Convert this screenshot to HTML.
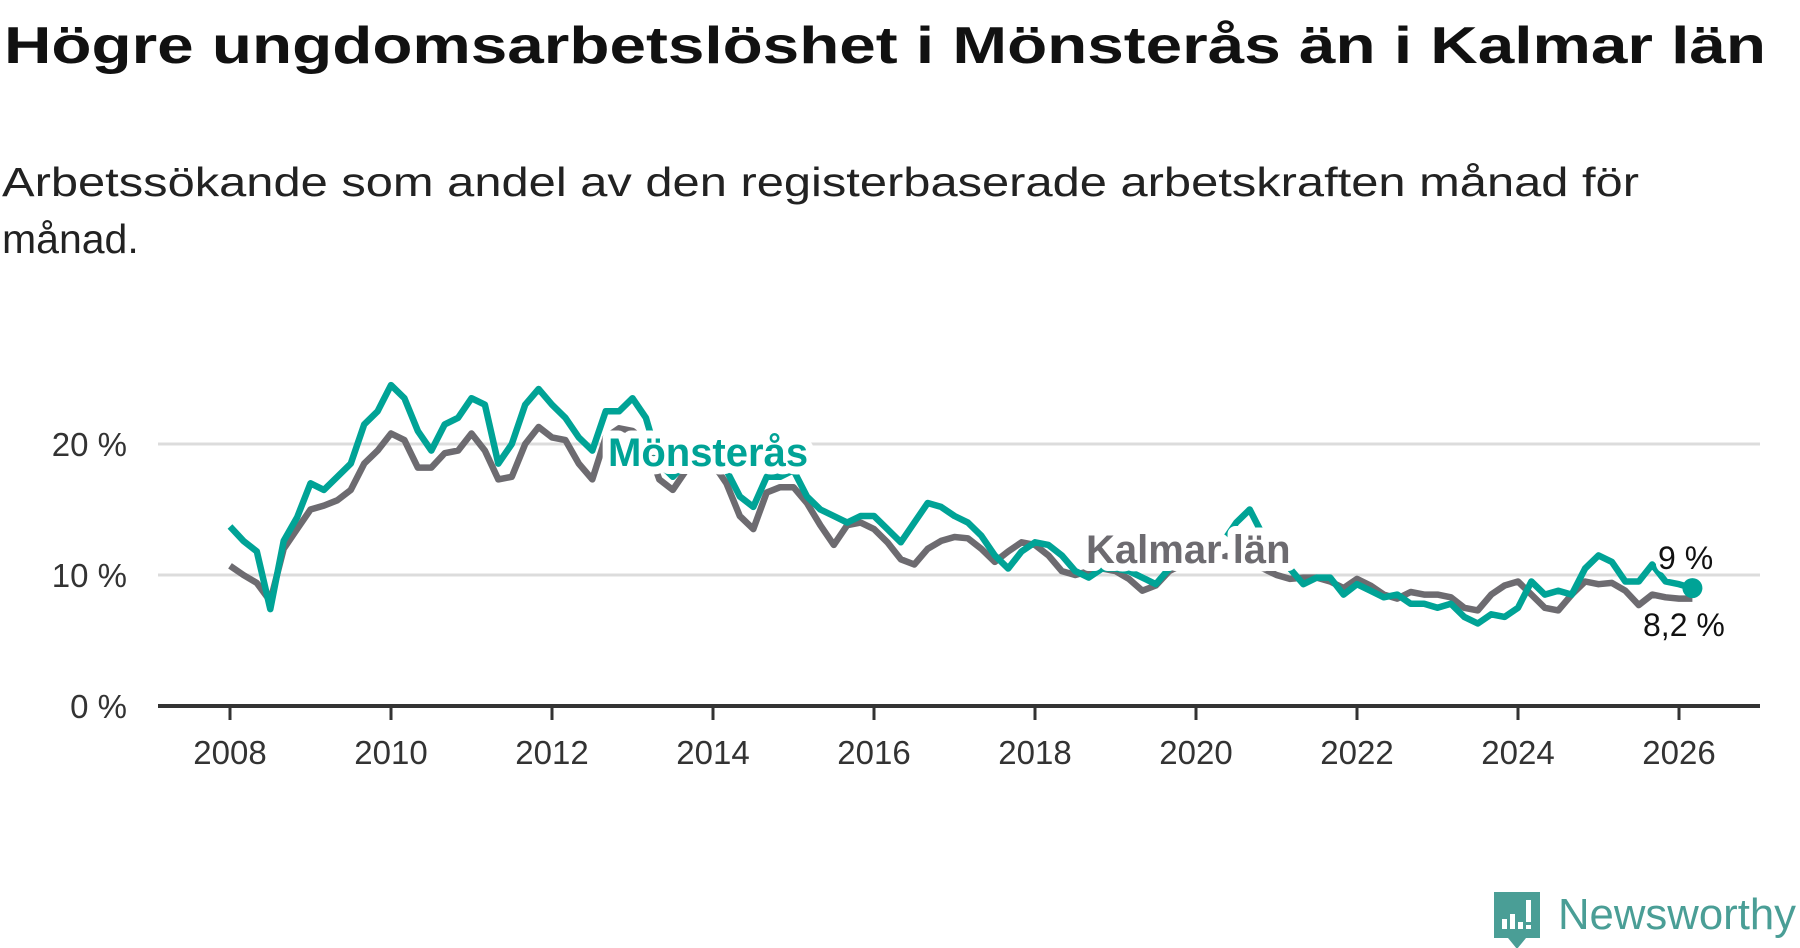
<!DOCTYPE html>
<html><head><meta charset="utf-8"><style>
body{margin:0;background:#fff;}
svg{display:block;font-family:"Liberation Sans",sans-serif;}
</style></head><body>
<svg id="chart" width="1800" height="948" viewBox="0 0 1800 948">
<text x="4" y="63" font-size="52" font-weight="bold" fill="#111" textLength="1762" lengthAdjust="spacingAndGlyphs">Högre ungdomsarbetslöshet i Mönsterås än i Kalmar län</text>
<text x="2" y="196" font-size="41" fill="#222" textLength="1637" lengthAdjust="spacingAndGlyphs">Arbetssökande som andel av den registerbaserade arbetskraften månad för</text>
<text x="2" y="253" font-size="41" fill="#222">månad.</text>
<g id="grid"></g><g id="axes"></g><g id="lines"></g><g id="labels"></g>
<g>
<path d="M1494 892 h46 v46 h-14 l-9 11 l-9 -11 h-14 z" fill="#4a9e96"/>
<rect x="1502" y="919" width="5" height="10" fill="#fff"/><rect x="1510" y="914" width="5" height="15" fill="#fff"/><rect x="1518" y="922" width="5" height="7" fill="#fff"/><rect x="1526" y="900" width="5" height="22" fill="#fff"/><rect x="1526" y="925" width="5" height="4" fill="#fff"/>
<text x="1558" y="929" font-size="44" fill="#4a9e96" textLength="238" lengthAdjust="spacingAndGlyphs">Newsworthy</text>
</g>
</svg>
<script>
const yearsStart = 2008, step = 1/6;
const monsteras = [13.7,12.6,11.8,7.4,12.6,14.4,17,16.5,17.5,18.5,21.5,22.5,24.5,23.5,21,19.5,21.5,22,23.5,23,18.5,20,23,24.2,23,22,20.5,19.5,22.5,22.5,23.5,22,18.5,17.5,18.5,19,19,18,16,15.2,17.5,17.5,18,16,15,14.5,14,14.5,14.5,13.5,12.5,14,15.5,15.2,14.5,14,13,11.5,10.5,11.8,12.5,12.3,11.5,10.3,9.8,10.5,10.5,10.3,9.8,9.3,10.5,11.5,12.3,12,12.5,14,15,13,11.5,10.5,9.3,9.8,9.8,8.5,9.3,8.8,8.3,8.5,7.8,7.8,7.5,7.8,6.8,6.3,7,6.8,7.5,9.5,8.5,8.8,8.5,10.5,11.5,11,9.5,9.5,10.8,9.5,9.3,9];
const kalmar = [10.7,10,9.4,8,12,13.5,15,15.3,15.7,16.5,18.5,19.5,20.8,20.3,18.2,18.2,19.3,19.5,20.8,19.5,17.3,17.5,20,21.3,20.5,20.3,18.5,17.3,20.5,21.2,21,20.2,17.3,16.5,18,19,18.5,17,14.5,13.5,16.3,16.7,16.7,15.5,13.8,12.3,13.8,14,13.5,12.5,11.2,10.8,12,12.6,12.9,12.8,12,11,11.8,12.5,12.3,11.5,10.3,10,10.3,10.5,10.3,9.7,8.8,9.2,10.3,10.8,11,11.3,11.5,11.3,11,10.5,10,9.7,9.8,9.8,9.5,9,9.7,9.2,8.5,8.2,8.7,8.5,8.5,8.3,7.5,7.3,8.5,9.2,9.5,8.5,7.5,7.3,8.5,9.5,9.3,9.4,8.8,7.7,8.5,8.3,8.2,8.2];
const yTicks = [0,10,20];
const yTickLabels = ["0 %","10 %","20 %"];
const xTicks = [2008,2010,2012,2014,2016,2018,2020,2022,2024,2026];
const NS="http://www.w3.org/2000/svg";
const X = t => 230 + (t-2008)*80.5;
const Y = v => 706 - v*13.1;
function mk(tag, attrs, parent){const e=document.createElementNS(NS,tag);for(const k in attrs)e.setAttribute(k,attrs[k]);parent.appendChild(e);return e;}
const grid=document.getElementById('grid'), axes=document.getElementById('axes'), lines=document.getElementById('lines'), labels=document.getElementById('labels');
yTicks.forEach((v,i)=>{
  if(v>0){const l=mk('line',{x1:158,x2:1760,y1:Y(v),y2:Y(v),stroke:'#dcdcdc','stroke-width':3},grid);
  
  }
  const t=mk('text',{x:127,y:Y(v)+12,'text-anchor':'end','font-size':33,fill:'#333'},axes);
  t.textContent=yTickLabels[i];
  
  
});
const ax=mk('line',{x1:158,x2:1760,y1:706,y2:706,stroke:'#333','stroke-width':4},axes);


xTicks.forEach(yr=>{
  const tk=mk('line',{x1:X(yr),x2:X(yr),y1:706,y2:720,stroke:'#333','stroke-width':3},axes);
  
  
  const t=mk('text',{x:X(yr),y:764,'text-anchor':'middle','font-size':33,fill:'#333'},axes);
  t.textContent=yr;
  
  
});
function pts(arr){return arr.map((v,i)=>X(yearsStart+i*step).toFixed(1)+','+Y(v).toFixed(1)).join(' ');}
const gl=mk('polyline',{points:pts(kalmar),fill:'none',stroke:'#6d6b70','stroke-width':6.5,'stroke-linejoin':'round'},lines);


const tl=mk('polyline',{points:pts(monsteras),fill:'none',stroke:'#00a396','stroke-width':6.5,'stroke-linejoin':'round'},lines);


const li=monsteras.length-1;
const dot=mk('circle',{cx:X(yearsStart+li*step),cy:Y(monsteras[li]),r:10,fill:'#00a396'},lines);


function lab(txt,x,y,size,fill,bold,name,sw){
  const t=mk('text',{x:x,y:y,'font-size':size,fill:fill,'font-weight':bold?'bold':'normal',stroke:'#fff','stroke-width':sw,'paint-order':'stroke','stroke-linejoin':'round'},labels);
  t.textContent=txt;
  
  
}
lab('Mönsterås',608,466,40,'#00a396',true,'label-monsteras',16);
lab('Kalmar län',1086,563,40,'#6d6b70',true,'label-kalmar-lan',16);
lab(Math.round(monsteras[li])+' %',1658,569,32,'#111',false,'end-value-monsteras',8);
lab(String(kalmar[kalmar.length-1]).replace('.',',')+' %',1643,636,32,'#111',false,'end-value-kalmar',8);
</script>
</body></html>
